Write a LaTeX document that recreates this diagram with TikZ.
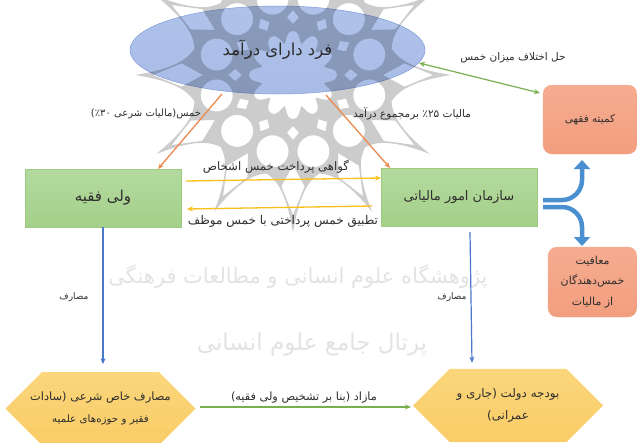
\documentclass[tikz,border=0pt]{standalone}
\usepackage{fontspec}
\usetikzlibrary{arrows.meta,calc,shapes.geometric,shapes.misc}
\TeXXeTstate=1
\newfontfamily\arabicfont[Script=Arabic]{DejaVu Sans}
\newcommand{\rtltext}[2]{{\fontsize{#1}{#1}\selectfont\arabicfont #2}}
\definecolor{txt}{HTML}{2E2E2E}
\definecolor{green1}{HTML}{B4DA9F}\definecolor{green2}{HTML}{A4D08A}\definecolor{green3}{HTML}{9CCB80}
\definecolor{red1}{HTML}{F6AC90}\definecolor{red2}{HTML}{F29E7E}
\definecolor{gold1}{HTML}{FBD67C}\definecolor{gold2}{HTML}{F9CC66}
\definecolor{arrO}{HTML}{ED8A4E}\definecolor{arrY}{HTML}{FBBF1A}\definecolor{arrG}{HTML}{78B050}
\definecolor{arrB}{HTML}{4C78CC}\definecolor{arrF}{HTML}{4A90D0}
\definecolor{ellT}{HTML}{AEC2EA}\definecolor{ellB}{HTML}{A8BCE6}\definecolor{ellE}{HTML}{7F9BD8}
\tikzset{
  lab/.style={inner sep=0pt,outer sep=0pt,text=txt,align=center},
  wm/.style={inner sep=0pt,outer sep=0pt,text=black!11},
  greenbox/.style={rectangle,inner sep=0pt,outer sep=0pt,minimum width=156pt,minimum height=58pt,top color=green1,bottom color=green2,draw=green3,line width=.5pt,text=txt},
  redbox/.style={rectangle,rounded corners=9pt,inner sep=0pt,outer sep=0pt,top color=red1,bottom color=red2,draw=red1,line width=.3pt,text=txt,align=center},
  octbox/.style={chamfered rectangle,chamfered rectangle xsep=24pt,chamfered rectangle ysep=20pt,inner sep=0pt,outer sep=0pt,minimum width=190pt,top color=gold1,bottom color=gold2,text=txt,align=center},
  orangearrow/.style={-{Stealth[length=6pt,width=5pt]},draw=arrO,line width=1.3pt},
  yellowarrow/.style={-{Stealth[length=6pt,width=5pt]},draw=arrY,line width=1.3pt},
  greenarrow/.style={-{Stealth[length=6pt,width=5pt]},draw=arrG,line width=1.2pt},
  bluearrow/.style={-{Stealth[length=6pt,width=5pt]},draw=arrB,line width=1.2pt},
  fork/.style={-{Triangle[length=9pt,width=16pt]},draw=arrF,line width=4.5pt,rounded corners=20pt}
}
\begin{document}
\begin{tikzpicture}[x=1pt,y=-1pt]
\useasboundingbox (0,0) rectangle (637,442);
\fill[white] (0,0) rectangle (637,442);
% watermark text
\node[wm] (wmone) at (298,277) {\rtltext{21}{\beginR پژوهشگاه علوم انسانی و مطالعات فرهنگی\endR}};
\node[wm] (wmtwo) at (312,345) {\rtltext{23}{\beginR پرتال جامع علوم انسانی\endR}};
% person ellipse
\node[ellipse,inner sep=0pt,outer sep=0pt,minimum width=295pt,minimum height=88pt,top color=ellT,bottom color=ellB,draw=ellE,line width=.5pt,text=txt] (person) at (277.5,50) {\raisebox{5pt}{\rtltext{16.5}{\beginR فرد دارای درآمد\endR}}};
% rosette watermark, multiplied over the ellipse
\begin{scope}
\clip (0,0) rectangle (637,442);
\begin{scope}[shift={(293,75)},blend mode=multiply]
\fill[black!20,even odd rule]
  (0:158) foreach \k in {0,30,...,330} { .. controls (\k+3:118) and (\k+9:106) .. (\k+15:102) .. controls (\k+21:106) and (\k+27:118) .. (\k+30:158)} -- cycle
  foreach \k in {0,30,...,330} {
    (\k:51) -- (\k+6:58) -- (\k:65) -- (\k-6:58) -- cycle
    (\k+15:79) circle[radius=16]
    (\k:140) -- (\k+6:112) -- (\k:90) -- (\k-6:112) -- cycle
  }
  (0:44) foreach \k in {0,30,...,330} { .. controls (\k+10:44) and (\k+10:35) .. (\k+15:32) .. controls (\k+20:35) and (\k+20:44) .. (\k+30:44)} -- cycle;
\end{scope}
\end{scope}
% boxes
\node[greenbox] (vali) at (103,198) {\rtltext{15}{\beginR ولی فقیه\endR}};
\node[greenbox] (tax) at (459,197) {\raisebox{3pt}{\rtltext{13}{\beginR سازمان امور مالیاتی\endR}}};
\node[redbox,minimum width=94pt,minimum height=69pt] (committee) at (590,119.5) {\rtltext{10.5}{\beginR کمیته فقهی\endR}};
\node[redbox,minimum width=89pt,minimum height=70pt] (exempt) at (592.5,282) {\raisebox{-2pt}{\rtltext{11}{\beginR معافیت\endR}}\\[8.5pt]\raisebox{-2pt}{\rtltext{11}{\beginR خمس‌دهندگان\endR}}\\[8.5pt]\raisebox{-2pt}{\rtltext{11}{\beginR از مالیات\endR}}};
\node[octbox,minimum height=67pt] (expense) at (100.5,408.5) {\raisebox{-3pt}{\rtltext{11.4}{\beginR مصارف خاص شرعی (سادات\endR}}\\[9.5pt]\raisebox{-3pt}{\rtltext{10.3}{\beginR فقیر و حوزه‌های علمیه\endR}}};
\node[octbox,minimum height=67pt] (budget) at (508,405.5) {\raisebox{-3pt}{\rtltext{11.9}{\beginR بودجه دولت (جاری و\endR}}\\[9.5pt]\raisebox{-3pt}{\rtltext{11.9}{\beginR عمرانی)\endR}}};
% connectors
\draw[orangearrow] ($(person.south)+(-55.5,0)$) -- ($(vali.north)+(55,0)$);
\draw[orangearrow] ($(person.south)+(48.5,1)$) -- ($(tax.north)+(-69,0)$);
\draw[greenarrow,{Stealth[length=6pt,width=5pt]}-{Stealth[length=6pt,width=5pt]}] ($(person.east)+(-6,13)$) -- ($(committee.west)+(-3,-26.5)$);
\draw[yellowarrow] ($(vali.east)+(5,-17)$) -- ($(tax.west)+(0,-19)$);
\draw[yellowarrow] ($(tax.west)+(-9,9)$) -- ($(vali.east)+(6,11)$);
\draw[bluearrow] (vali.south) -- ($(expense.north)+(2.5,-8)$);
\draw[bluearrow] ($(tax.south)+(11,6)$) -- ($(budget.north)+(-36,-6)$);
\draw[greenarrow] ($(expense.east)+(4,-1.5)$) -- ($(budget.west)+(-2,1.5)$);
\draw[fork] ($(tax.east)+(6,3)$) -- ++(39,0) -- ($(committee.south)+(-8,6)$);
\draw[fork] ($(tax.east)+(6,10)$) -- ++(39,0) -- ($(exempt.north)+(-10.5,-1)$);
% labels
\node[lab] (labkhoms) at (146,114) {\rtltext{10}{\beginR خمس(مالیات شرعی \beginL ۳۰\endL٪)\endR}};
\node[lab] (labtax) at (412,114) {\rtltext{10.5}{\beginR مالیات \beginL ۲۵\endL٪ برمجموع درآمد\endR}};
\node[lab] (labdispute) at (513,58) {\rtltext{10.5}{\beginR حل اختلاف میزان خمس\endR}};
\node[lab] (labcert) at (276,167) {\rtltext{11.7}{\beginR گواهی پرداخت خمس اشخاص\endR}};
\node[lab] (labapply) at (283,221) {\rtltext{12}{\beginR تطبیق خمس پرداختی با خمس موظف\endR}};
\node[lab] (labspendl) at (74,297) {\rtltext{9}{\beginR مصارف\endR}};
\node[lab] (labspendr) at (452,297) {\rtltext{9}{\beginR مصارف\endR}};
\node[lab] (labsurplus) at (304,398) {\rtltext{11.3}{\beginR مازاد (بنا بر تشخیص ولی فقیه)\endR}};
\end{tikzpicture}
\end{document}
